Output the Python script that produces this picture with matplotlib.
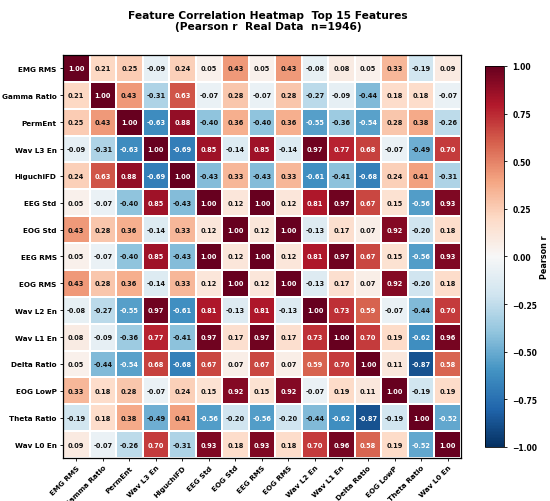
import numpy as np
import matplotlib
matplotlib.use("Agg")
import matplotlib.pyplot as plt

features = ["EMG RMS", "Gamma Ratio", "PermEnt", "Wav L3 En", "HiguchiFD",
            "EEG Std", "EOG Std", "EEG RMS", "EOG RMS", "Wav L2 En",
            "Wav L1 En", "Delta Ratio", "EOG LowP", "Theta Ratio", "Wav L0 En"]

r_emg_rms     = [1.00, 0.21, 0.25, -0.09, 0.24, 0.05, 0.43, 0.05, 0.43, -0.08, 0.08, 0.05, 0.33, -0.19, 0.09]
r_gamma_ratio = [0.21, 1.00, 0.43, -0.31, 0.63, -0.07, 0.28, -0.07, 0.28, -0.27, -0.09, -0.44, 0.18, 0.18, -0.07]
r_perment     = [0.25, 0.43, 1.00, -0.63, 0.88, -0.40, 0.36, -0.40, 0.36, -0.55, -0.36, -0.54, 0.28, 0.38, -0.26]
r_wav_l3      = [-0.09, -0.31, -0.63, 1.00, -0.69, 0.85, -0.14, 0.85, -0.14, 0.97, 0.77, 0.68, -0.07, -0.49, 0.70]
r_higuchi     = [0.24, 0.63, 0.88, -0.69, 1.00, -0.43, 0.33, -0.43, 0.33, -0.61, -0.41, -0.68, 0.24, 0.41, -0.31]
r_eeg_std     = [0.05, -0.07, -0.40, 0.85, -0.43, 1.00, 0.12, 1.00, 0.12, 0.81, 0.97, 0.67, 0.15, -0.56, 0.93]
r_eog_std     = [0.43, 0.28, 0.36, -0.14, 0.33, 0.12, 1.00, 0.12, 1.00, -0.13, 0.17, 0.07, 0.92, -0.20, 0.18]
r_eeg_rms     = [0.05, -0.07, -0.40, 0.85, -0.43, 1.00, 0.12, 1.00, 0.12, 0.81, 0.97, 0.67, 0.15, -0.56, 0.93]
r_eog_rms     = [0.43, 0.28, 0.36, -0.14, 0.33, 0.12, 1.00, 0.12, 1.00, -0.13, 0.17, 0.07, 0.92, -0.20, 0.18]
r_wav_l2      = [-0.08, -0.27, -0.55, 0.97, -0.61, 0.81, -0.13, 0.81, -0.13, 1.00, 0.73, 0.59, -0.07, -0.44, 0.70]
r_wav_l1      = [0.08, -0.09, -0.36, 0.77, -0.41, 0.97, 0.17, 0.97, 0.17, 0.73, 1.00, 0.70, 0.19, -0.62, 0.96]
r_delta_ratio = [0.05, -0.44, -0.54, 0.68, -0.68, 0.67, 0.07, 0.67, 0.07, 0.59, 0.70, 1.00, 0.11, -0.87, 0.58]
r_eog_lowp    = [0.33, 0.18, 0.28, -0.07, 0.24, 0.15, 0.92, 0.15, 0.92, -0.07, 0.19, 0.11, 1.00, -0.19, 0.19]
r_theta_ratio = [-0.19, 0.18, 0.38, -0.49, 0.41, -0.56, -0.20, -0.56, -0.20, -0.44, -0.62, -0.87, -0.19, 1.00, -0.52]
r_wav_l0      = [0.09, -0.07, -0.26, 0.70, -0.31, 0.93, 0.18, 0.93, 0.18, 0.70, 0.96, 0.58, 0.19, -0.52, 1.00]

corr = np.array([r_emg_rms, r_gamma_ratio, r_perment, r_wav_l3, r_higuchi,
                 r_eeg_std, r_eog_std, r_eeg_rms, r_eog_rms, r_wav_l2,
                 r_wav_l1, r_delta_ratio, r_eog_lowp, r_theta_ratio, r_wav_l0])

n = len(features)
fig = plt.figure(figsize=(5.5, 5.02), dpi=100)
ax = fig.add_axes([0.1145, 0.0857, 0.7236, 0.8028])
cax = fig.add_axes([0.8818, 0.1076, 0.0345, 0.759])

mesh = ax.pcolormesh(np.arange(n + 1), np.arange(n + 1), corr, cmap="RdBu_r",
                     vmin=-1, vmax=1, edgecolors="white", linewidth=0.15)
ax.set_xlim(0, n)
ax.set_ylim(n, 0)

for i in range(n):
    for j in range(n):
        v = corr[i, j]
        ax.text(j + 0.5, i + 0.5, f"{v:.2f}", ha="center", va="center",
                fontsize=4.8, fontweight="bold",
                color="white" if abs(v) > 0.5 else "#111111")

ax.set_xticks(np.arange(n) + 0.5)
ax.set_yticks(np.arange(n) + 0.5)
ax.set_xticklabels(features, rotation=45, ha="right", rotation_mode="anchor",
                   fontsize=5.2, fontweight="bold")
ax.set_yticklabels(features, fontsize=5.2, fontweight="bold")
ax.tick_params(length=2.5, width=0.6, pad=2)
for s in ax.spines.values():
    s.set_linewidth(0.9)

ax.set_title("Feature Correlation Heatmap  Top 15 Features\n(Pearson r  Real Data  n=1946)",
             fontsize=7.7, fontweight="bold", pad=19, linespacing=1.1, x=0.515)

cb = fig.colorbar(mesh, cax=cax)
cb.set_ticks([-1, -0.75, -0.5, -0.25, 0, 0.25, 0.5, 0.75, 1])
cb.ax.tick_params(labelsize=5.5, length=2.5, width=0.6)
for t in cb.ax.get_yticklabels():
    t.set_fontweight("bold")
cb.set_label("Pearson r", fontsize=5.8, fontweight="bold", labelpad=2)
cb.outline.set_linewidth(0.6)

fig.savefig("out.png", dpi=100)
